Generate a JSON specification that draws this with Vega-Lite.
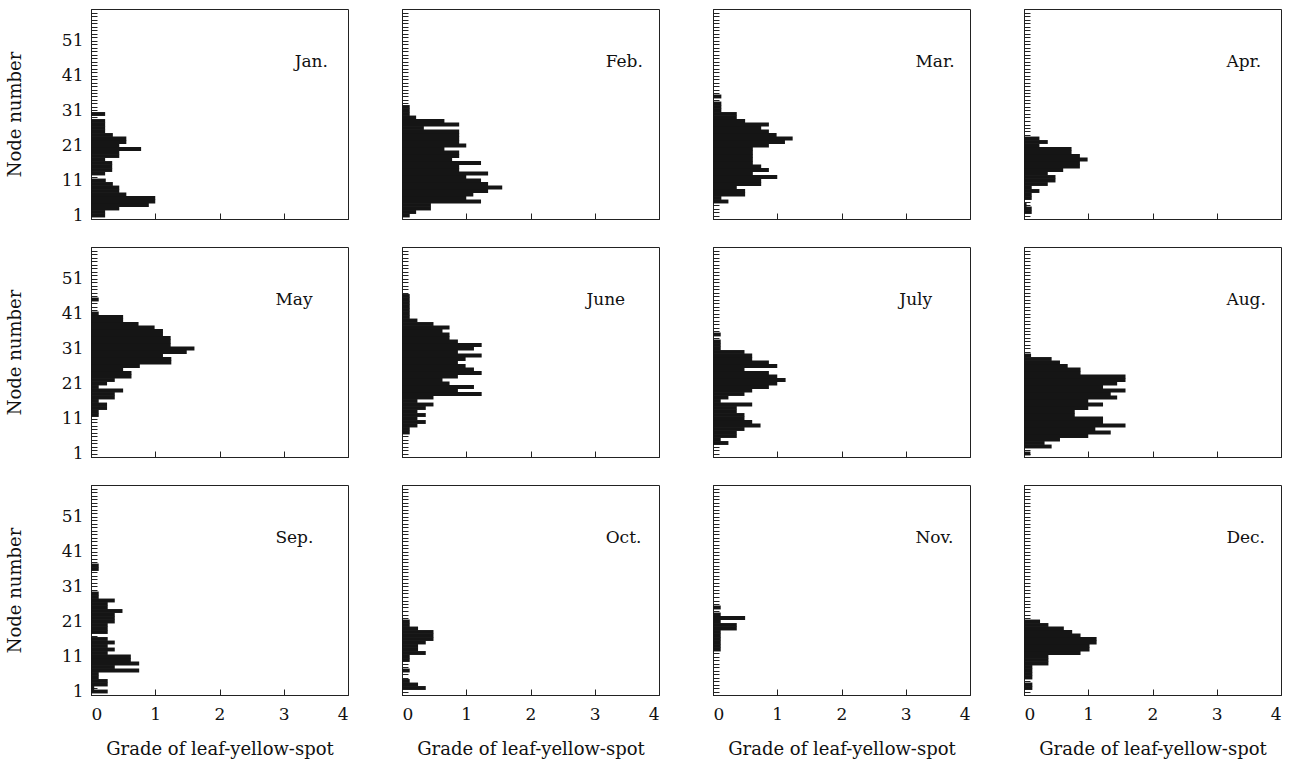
{
"$schema":"https://vega.github.io/schema/vega-lite/v6.json",
"padding":{"left":5,"top":8,"right":0,"bottom":0},
"background":"white",
"datasets":{
"labels":[{"month":"Jan."},{"month":"Feb."},{"month":"Mar."},{"month":"Apr."},{"month":"May"},{"month":"June"},{"month":"July"},{"month":"Aug."},{"month":"Sep."},{"month":"Oct."},{"month":"Nov."},{"month":"Dec."}],
"bars":[
{"month":"Jan.","node":1,"grade":0.22},{"month":"Jan.","node":2,"grade":0.22},{"month":"Jan.","node":3,"grade":0.44},{"month":"Jan.","node":4,"grade":0.9},{"month":"Jan.","node":5,"grade":1.0},{"month":"Jan.","node":6,"grade":1.0},{"month":"Jan.","node":7,"grade":0.55},{"month":"Jan.","node":8,"grade":0.44},{"month":"Jan.","node":9,"grade":0.44},{"month":"Jan.","node":10,"grade":0.34},{"month":"Jan.","node":11,"grade":0.23},{"month":"Jan.","node":13,"grade":0.22},{"month":"Jan.","node":14,"grade":0.33},{"month":"Jan.","node":15,"grade":0.33},{"month":"Jan.","node":16,"grade":0.33},{"month":"Jan.","node":17,"grade":0.22},{"month":"Jan.","node":18,"grade":0.44},{"month":"Jan.","node":19,"grade":0.44},{"month":"Jan.","node":20,"grade":0.78},{"month":"Jan.","node":21,"grade":0.44},{"month":"Jan.","node":22,"grade":0.55},{"month":"Jan.","node":23,"grade":0.55},{"month":"Jan.","node":24,"grade":0.34},{"month":"Jan.","node":25,"grade":0.22},{"month":"Jan.","node":26,"grade":0.22},{"month":"Jan.","node":27,"grade":0.22},{"month":"Jan.","node":28,"grade":0.22},{"month":"Jan.","node":30,"grade":0.22},
{"month":"Feb.","node":1,"grade":0.12},{"month":"Feb.","node":2,"grade":0.22},{"month":"Feb.","node":3,"grade":0.45},{"month":"Feb.","node":4,"grade":0.45},{"month":"Feb.","node":5,"grade":1.23},{"month":"Feb.","node":6,"grade":1.0},{"month":"Feb.","node":7,"grade":1.11},{"month":"Feb.","node":8,"grade":1.34},{"month":"Feb.","node":9,"grade":1.56},{"month":"Feb.","node":10,"grade":1.34},{"month":"Feb.","node":11,"grade":1.23},{"month":"Feb.","node":12,"grade":1.0},{"month":"Feb.","node":13,"grade":1.34},{"month":"Feb.","node":14,"grade":0.89},{"month":"Feb.","node":15,"grade":0.89},{"month":"Feb.","node":16,"grade":1.23},{"month":"Feb.","node":17,"grade":0.78},{"month":"Feb.","node":18,"grade":0.89},{"month":"Feb.","node":19,"grade":0.89},{"month":"Feb.","node":20,"grade":0.66},{"month":"Feb.","node":21,"grade":1.0},{"month":"Feb.","node":22,"grade":0.89},{"month":"Feb.","node":23,"grade":0.89},{"month":"Feb.","node":24,"grade":0.89},{"month":"Feb.","node":25,"grade":0.89},{"month":"Feb.","node":26,"grade":0.34},{"month":"Feb.","node":27,"grade":0.89},{"month":"Feb.","node":28,"grade":0.66},{"month":"Feb.","node":29,"grade":0.22},{"month":"Feb.","node":30,"grade":0.12},{"month":"Feb.","node":31,"grade":0.12},{"month":"Feb.","node":32,"grade":0.12},
{"month":"Mar.","node":5,"grade":0.24},{"month":"Mar.","node":6,"grade":0.13},{"month":"Mar.","node":7,"grade":0.5},{"month":"Mar.","node":8,"grade":0.5},{"month":"Mar.","node":9,"grade":0.37},{"month":"Mar.","node":10,"grade":0.75},{"month":"Mar.","node":11,"grade":0.75},{"month":"Mar.","node":12,"grade":1.0},{"month":"Mar.","node":13,"grade":0.62},{"month":"Mar.","node":14,"grade":0.87},{"month":"Mar.","node":15,"grade":0.75},{"month":"Mar.","node":16,"grade":0.62},{"month":"Mar.","node":17,"grade":0.62},{"month":"Mar.","node":18,"grade":0.62},{"month":"Mar.","node":19,"grade":0.62},{"month":"Mar.","node":20,"grade":0.62},{"month":"Mar.","node":21,"grade":0.87},{"month":"Mar.","node":22,"grade":1.12},{"month":"Mar.","node":23,"grade":1.24},{"month":"Mar.","node":24,"grade":0.99},{"month":"Mar.","node":25,"grade":0.87},{"month":"Mar.","node":26,"grade":0.75},{"month":"Mar.","node":27,"grade":0.87},{"month":"Mar.","node":28,"grade":0.5},{"month":"Mar.","node":29,"grade":0.37},{"month":"Mar.","node":30,"grade":0.37},{"month":"Mar.","node":31,"grade":0.13},{"month":"Mar.","node":32,"grade":0.13},{"month":"Mar.","node":33,"grade":0.13},{"month":"Mar.","node":35,"grade":0.13},
{"month":"Apr.","node":2,"grade":0.12},{"month":"Apr.","node":3,"grade":0.12},{"month":"Apr.","node":4,"grade":0.04},{"month":"Apr.","node":6,"grade":0.12},{"month":"Apr.","node":7,"grade":0.12},{"month":"Apr.","node":8,"grade":0.24},{"month":"Apr.","node":9,"grade":0.12},{"month":"Apr.","node":10,"grade":0.37},{"month":"Apr.","node":11,"grade":0.49},{"month":"Apr.","node":12,"grade":0.49},{"month":"Apr.","node":13,"grade":0.37},{"month":"Apr.","node":14,"grade":0.61},{"month":"Apr.","node":15,"grade":0.87},{"month":"Apr.","node":16,"grade":0.87},{"month":"Apr.","node":17,"grade":0.99},{"month":"Apr.","node":18,"grade":0.87},{"month":"Apr.","node":19,"grade":0.74},{"month":"Apr.","node":20,"grade":0.74},{"month":"Apr.","node":21,"grade":0.24},{"month":"Apr.","node":22,"grade":0.37},{"month":"Apr.","node":23,"grade":0.24},
{"month":"May","node":12,"grade":0.12},{"month":"May","node":13,"grade":0.12},{"month":"May","node":14,"grade":0.25},{"month":"May","node":15,"grade":0.25},{"month":"May","node":16,"grade":0.12},{"month":"May","node":17,"grade":0.37},{"month":"May","node":18,"grade":0.37},{"month":"May","node":19,"grade":0.5},{"month":"May","node":20,"grade":0.12},{"month":"May","node":21,"grade":0.25},{"month":"May","node":22,"grade":0.37},{"month":"May","node":23,"grade":0.63},{"month":"May","node":24,"grade":0.63},{"month":"May","node":25,"grade":0.5},{"month":"May","node":26,"grade":0.76},{"month":"May","node":27,"grade":1.25},{"month":"May","node":28,"grade":1.25},{"month":"May","node":29,"grade":1.12},{"month":"May","node":30,"grade":1.49},{"month":"May","node":31,"grade":1.61},{"month":"May","node":32,"grade":1.24},{"month":"May","node":33,"grade":1.24},{"month":"May","node":34,"grade":1.24},{"month":"May","node":35,"grade":1.12},{"month":"May","node":36,"grade":1.12},{"month":"May","node":37,"grade":0.99},{"month":"May","node":38,"grade":0.74},{"month":"May","node":39,"grade":0.5},{"month":"May","node":40,"grade":0.5},{"month":"May","node":41,"grade":0.12},{"month":"May","node":45,"grade":0.12},
{"month":"June","node":7,"grade":0.12},{"month":"June","node":8,"grade":0.12},{"month":"June","node":9,"grade":0.24},{"month":"June","node":10,"grade":0.37},{"month":"June","node":11,"grade":0.24},{"month":"June","node":12,"grade":0.37},{"month":"June","node":13,"grade":0.24},{"month":"June","node":14,"grade":0.37},{"month":"June","node":15,"grade":0.49},{"month":"June","node":16,"grade":0.24},{"month":"June","node":17,"grade":0.49},{"month":"June","node":18,"grade":1.24},{"month":"June","node":19,"grade":0.87},{"month":"June","node":20,"grade":1.12},{"month":"June","node":21,"grade":0.74},{"month":"June","node":22,"grade":0.63},{"month":"June","node":23,"grade":0.87},{"month":"June","node":24,"grade":1.24},{"month":"June","node":25,"grade":1.12},{"month":"June","node":26,"grade":0.99},{"month":"June","node":27,"grade":0.87},{"month":"June","node":28,"grade":0.99},{"month":"June","node":29,"grade":1.24},{"month":"June","node":30,"grade":0.87},{"month":"June","node":31,"grade":1.12},{"month":"June","node":32,"grade":1.24},{"month":"June","node":33,"grade":0.87},{"month":"June","node":34,"grade":0.74},{"month":"June","node":35,"grade":0.74},{"month":"June","node":36,"grade":0.63},{"month":"June","node":37,"grade":0.74},{"month":"June","node":38,"grade":0.49},{"month":"June","node":39,"grade":0.24},{"month":"June","node":40,"grade":0.12},{"month":"June","node":41,"grade":0.12},{"month":"June","node":42,"grade":0.12},{"month":"June","node":43,"grade":0.12},{"month":"June","node":44,"grade":0.12},{"month":"June","node":45,"grade":0.12},{"month":"June","node":46,"grade":0.12},
{"month":"July","node":4,"grade":0.24},{"month":"July","node":5,"grade":0.12},{"month":"July","node":6,"grade":0.37},{"month":"July","node":7,"grade":0.37},{"month":"July","node":8,"grade":0.49},{"month":"July","node":9,"grade":0.74},{"month":"July","node":10,"grade":0.61},{"month":"July","node":11,"grade":0.49},{"month":"July","node":12,"grade":0.49},{"month":"July","node":13,"grade":0.37},{"month":"July","node":14,"grade":0.37},{"month":"July","node":15,"grade":0.61},{"month":"July","node":16,"grade":0.12},{"month":"July","node":17,"grade":0.24},{"month":"July","node":18,"grade":0.49},{"month":"July","node":19,"grade":0.61},{"month":"July","node":20,"grade":0.87},{"month":"July","node":21,"grade":1.0},{"month":"July","node":22,"grade":1.13},{"month":"July","node":23,"grade":1.0},{"month":"July","node":24,"grade":0.87},{"month":"July","node":25,"grade":0.49},{"month":"July","node":26,"grade":1.0},{"month":"July","node":27,"grade":0.87},{"month":"July","node":28,"grade":0.61},{"month":"July","node":29,"grade":0.61},{"month":"July","node":30,"grade":0.49},{"month":"July","node":31,"grade":0.12},{"month":"July","node":32,"grade":0.12},{"month":"July","node":33,"grade":0.12},{"month":"July","node":35,"grade":0.12},
{"month":"Aug.","node":1,"grade":0.1},{"month":"Aug.","node":3,"grade":0.43},{"month":"Aug.","node":4,"grade":0.32},{"month":"Aug.","node":5,"grade":0.56},{"month":"Aug.","node":6,"grade":1.0},{"month":"Aug.","node":7,"grade":1.35},{"month":"Aug.","node":8,"grade":1.11},{"month":"Aug.","node":9,"grade":1.58},{"month":"Aug.","node":10,"grade":1.23},{"month":"Aug.","node":11,"grade":1.23},{"month":"Aug.","node":12,"grade":0.79},{"month":"Aug.","node":13,"grade":0.79},{"month":"Aug.","node":14,"grade":1.0},{"month":"Aug.","node":15,"grade":1.23},{"month":"Aug.","node":16,"grade":1.0},{"month":"Aug.","node":17,"grade":1.45},{"month":"Aug.","node":18,"grade":1.35},{"month":"Aug.","node":19,"grade":1.58},{"month":"Aug.","node":20,"grade":1.23},{"month":"Aug.","node":21,"grade":1.45},{"month":"Aug.","node":22,"grade":1.58},{"month":"Aug.","node":23,"grade":1.58},{"month":"Aug.","node":24,"grade":0.88},{"month":"Aug.","node":25,"grade":0.88},{"month":"Aug.","node":26,"grade":0.68},{"month":"Aug.","node":27,"grade":0.56},{"month":"Aug.","node":28,"grade":0.43},{"month":"Aug.","node":29,"grade":0.11},
{"month":"Sep.","node":1,"grade":0.26},{"month":"Sep.","node":2,"grade":0.05},{"month":"Sep.","node":3,"grade":0.26},{"month":"Sep.","node":4,"grade":0.26},{"month":"Sep.","node":5,"grade":0.12},{"month":"Sep.","node":6,"grade":0.12},{"month":"Sep.","node":7,"grade":0.75},{"month":"Sep.","node":8,"grade":0.37},{"month":"Sep.","node":9,"grade":0.75},{"month":"Sep.","node":10,"grade":0.62},{"month":"Sep.","node":11,"grade":0.62},{"month":"Sep.","node":12,"grade":0.26},{"month":"Sep.","node":13,"grade":0.37},{"month":"Sep.","node":14,"grade":0.26},{"month":"Sep.","node":15,"grade":0.37},{"month":"Sep.","node":16,"grade":0.26},{"month":"Sep.","node":18,"grade":0.26},{"month":"Sep.","node":19,"grade":0.26},{"month":"Sep.","node":20,"grade":0.26},{"month":"Sep.","node":21,"grade":0.37},{"month":"Sep.","node":22,"grade":0.37},{"month":"Sep.","node":23,"grade":0.37},{"month":"Sep.","node":24,"grade":0.49},{"month":"Sep.","node":25,"grade":0.26},{"month":"Sep.","node":26,"grade":0.26},{"month":"Sep.","node":27,"grade":0.37},{"month":"Sep.","node":28,"grade":0.12},{"month":"Sep.","node":29,"grade":0.12},{"month":"Sep.","node":36,"grade":0.12},{"month":"Sep.","node":37,"grade":0.12},
{"month":"Oct.","node":2,"grade":0.37},{"month":"Oct.","node":3,"grade":0.25},{"month":"Oct.","node":4,"grade":0.12},{"month":"Oct.","node":7,"grade":0.12},{"month":"Oct.","node":10,"grade":0.12},{"month":"Oct.","node":11,"grade":0.12},{"month":"Oct.","node":12,"grade":0.37},{"month":"Oct.","node":13,"grade":0.25},{"month":"Oct.","node":14,"grade":0.25},{"month":"Oct.","node":15,"grade":0.37},{"month":"Oct.","node":16,"grade":0.49},{"month":"Oct.","node":17,"grade":0.49},{"month":"Oct.","node":18,"grade":0.49},{"month":"Oct.","node":19,"grade":0.25},{"month":"Oct.","node":20,"grade":0.12},{"month":"Oct.","node":21,"grade":0.12},
{"month":"Nov.","node":13,"grade":0.12},{"month":"Nov.","node":14,"grade":0.12},{"month":"Nov.","node":15,"grade":0.12},{"month":"Nov.","node":16,"grade":0.12},{"month":"Nov.","node":17,"grade":0.12},{"month":"Nov.","node":18,"grade":0.12},{"month":"Nov.","node":19,"grade":0.37},{"month":"Nov.","node":20,"grade":0.37},{"month":"Nov.","node":21,"grade":0.12},{"month":"Nov.","node":22,"grade":0.5},{"month":"Nov.","node":23,"grade":0.12},{"month":"Nov.","node":25,"grade":0.12},
{"month":"Dec.","node":2,"grade":0.13},{"month":"Dec.","node":3,"grade":0.13},{"month":"Dec.","node":5,"grade":0.13},{"month":"Dec.","node":6,"grade":0.13},{"month":"Dec.","node":7,"grade":0.13},{"month":"Dec.","node":8,"grade":0.13},{"month":"Dec.","node":9,"grade":0.38},{"month":"Dec.","node":10,"grade":0.38},{"month":"Dec.","node":11,"grade":0.38},{"month":"Dec.","node":12,"grade":0.88},{"month":"Dec.","node":13,"grade":1.02},{"month":"Dec.","node":14,"grade":1.02},{"month":"Dec.","node":15,"grade":1.13},{"month":"Dec.","node":16,"grade":1.13},{"month":"Dec.","node":17,"grade":0.88},{"month":"Dec.","node":18,"grade":0.75},{"month":"Dec.","node":19,"grade":0.62},{"month":"Dec.","node":20,"grade":0.38},{"month":"Dec.","node":21,"grade":0.25}
]},
"spacing":22,
"vconcat":[
{"spacing":52,"hconcat":[
{"width":257,"height":210,"resolve":{"axis":{"x":"independent","y":"independent"}},"layer":[
{"data":{"name":"bars"},"transform":[{"filter":"datum.month==='Jan.'"}],"mark":{"type":"bar","orient":"horizontal","height":3.9,"color":"#151515"},"encoding":{"x":{"field":"grade","type":"quantitative","stack":null,"scale":{"domain":[0,4],"padding":0},"axis":{"values":[0,1,2,3,4],"labels":false,"title":null}},"y":{"field":"node","type":"quantitative","scale":{"domain":[0.5,55.5],"padding":0},"axis":{"tickCount":55,"labelExpr":"(datum.value-1)%10===0 ? datum.label : ''","labelFontSize":{"condition":{"test":"(datum.value-1)%10!==0","value":0},"value":17},"labelOverlap":false,"labelFlush":false,"title":"Node number","labelPadding":14,"titlePadding":37}}}},
{"data":{"name":"labels"},"transform":[{"filter":"datum.month==='Jan.'"}],"mark":{"type":"text","align":"left","baseline":"middle","font":"DejaVu Serif","fontSize":17,"color":"#111"},"encoding":{"text":{"field":"month"},"x":{"datum":3.17,"type":"quantitative","axis":null},"y":{"datum":45,"type":"quantitative","axis":null}}}
]},
{"width":257,"height":210,"resolve":{"axis":{"x":"independent","y":"independent"}},"layer":[
{"data":{"name":"bars"},"transform":[{"filter":"datum.month==='Feb.'"}],"mark":{"type":"bar","orient":"horizontal","height":3.9,"color":"#151515"},"encoding":{"x":{"field":"grade","type":"quantitative","stack":null,"scale":{"domain":[0,4],"padding":0},"axis":{"values":[0,1,2,3,4],"labels":false,"title":null}},"y":{"field":"node","type":"quantitative","scale":{"domain":[0.5,55.5],"padding":0},"axis":{"tickCount":55,"labels":false,"title":null}}}},
{"data":{"name":"labels"},"transform":[{"filter":"datum.month==='Feb.'"}],"mark":{"type":"text","align":"left","baseline":"middle","font":"DejaVu Serif","fontSize":17,"color":"#111"},"encoding":{"text":{"field":"month"},"x":{"datum":3.17,"type":"quantitative","axis":null},"y":{"datum":45,"type":"quantitative","axis":null}}}
]},
{"width":257,"height":210,"resolve":{"axis":{"x":"independent","y":"independent"}},"layer":[
{"data":{"name":"bars"},"transform":[{"filter":"datum.month==='Mar.'"}],"mark":{"type":"bar","orient":"horizontal","height":3.9,"color":"#151515"},"encoding":{"x":{"field":"grade","type":"quantitative","stack":null,"scale":{"domain":[0,4],"padding":0},"axis":{"values":[0,1,2,3,4],"labels":false,"title":null}},"y":{"field":"node","type":"quantitative","scale":{"domain":[0.5,55.5],"padding":0},"axis":{"tickCount":55,"labels":false,"title":null}}}},
{"data":{"name":"labels"},"transform":[{"filter":"datum.month==='Mar.'"}],"mark":{"type":"text","align":"left","baseline":"middle","font":"DejaVu Serif","fontSize":17,"color":"#111"},"encoding":{"text":{"field":"month"},"x":{"datum":3.15,"type":"quantitative","axis":null},"y":{"datum":45,"type":"quantitative","axis":null}}}
]},
{"width":257,"height":210,"resolve":{"axis":{"x":"independent","y":"independent"}},"layer":[
{"data":{"name":"bars"},"transform":[{"filter":"datum.month==='Apr.'"}],"mark":{"type":"bar","orient":"horizontal","height":3.9,"color":"#151515"},"encoding":{"x":{"field":"grade","type":"quantitative","stack":null,"scale":{"domain":[0,4],"padding":0},"axis":{"values":[0,1,2,3,4],"labels":false,"title":null}},"y":{"field":"node","type":"quantitative","scale":{"domain":[0.5,55.5],"padding":0},"axis":{"tickCount":55,"labels":false,"title":null}}}},
{"data":{"name":"labels"},"transform":[{"filter":"datum.month==='Apr.'"}],"mark":{"type":"text","align":"left","baseline":"middle","font":"DejaVu Serif","fontSize":17,"color":"#111"},"encoding":{"text":{"field":"month"},"x":{"datum":3.15,"type":"quantitative","axis":null},"y":{"datum":45,"type":"quantitative","axis":null}}}
]}
]},
{"spacing":52,"hconcat":[
{"width":257,"height":210,"resolve":{"axis":{"x":"independent","y":"independent"}},"layer":[
{"data":{"name":"bars"},"transform":[{"filter":"datum.month==='May'"}],"mark":{"type":"bar","orient":"horizontal","height":3.9,"color":"#151515"},"encoding":{"x":{"field":"grade","type":"quantitative","stack":null,"scale":{"domain":[0,4],"padding":0},"axis":{"values":[0,1,2,3,4],"labels":false,"title":null}},"y":{"field":"node","type":"quantitative","scale":{"domain":[0.5,55.5],"padding":0},"axis":{"tickCount":55,"labelExpr":"(datum.value-1)%10===0 ? datum.label : ''","labelFontSize":{"condition":{"test":"(datum.value-1)%10!==0","value":0},"value":17},"labelOverlap":false,"labelFlush":false,"title":"Node number","labelPadding":14,"titlePadding":37}}}},
{"data":{"name":"labels"},"transform":[{"filter":"datum.month==='May'"}],"mark":{"type":"text","align":"left","baseline":"middle","font":"DejaVu Serif","fontSize":17,"color":"#111"},"encoding":{"text":{"field":"month"},"x":{"datum":2.87,"type":"quantitative","axis":null},"y":{"datum":45,"type":"quantitative","axis":null}}}
]},
{"width":257,"height":210,"resolve":{"axis":{"x":"independent","y":"independent"}},"layer":[
{"data":{"name":"bars"},"transform":[{"filter":"datum.month==='June'"}],"mark":{"type":"bar","orient":"horizontal","height":3.9,"color":"#151515"},"encoding":{"x":{"field":"grade","type":"quantitative","stack":null,"scale":{"domain":[0,4],"padding":0},"axis":{"values":[0,1,2,3,4],"labels":false,"title":null}},"y":{"field":"node","type":"quantitative","scale":{"domain":[0.5,55.5],"padding":0},"axis":{"tickCount":55,"labels":false,"title":null}}}},
{"data":{"name":"labels"},"transform":[{"filter":"datum.month==='June'"}],"mark":{"type":"text","align":"left","baseline":"middle","font":"DejaVu Serif","fontSize":17,"color":"#111"},"encoding":{"text":{"field":"month"},"x":{"datum":2.87,"type":"quantitative","axis":null},"y":{"datum":45,"type":"quantitative","axis":null}}}
]},
{"width":257,"height":210,"resolve":{"axis":{"x":"independent","y":"independent"}},"layer":[
{"data":{"name":"bars"},"transform":[{"filter":"datum.month==='July'"}],"mark":{"type":"bar","orient":"horizontal","height":3.9,"color":"#151515"},"encoding":{"x":{"field":"grade","type":"quantitative","stack":null,"scale":{"domain":[0,4],"padding":0},"axis":{"values":[0,1,2,3,4],"labels":false,"title":null}},"y":{"field":"node","type":"quantitative","scale":{"domain":[0.5,55.5],"padding":0},"axis":{"tickCount":55,"labels":false,"title":null}}}},
{"data":{"name":"labels"},"transform":[{"filter":"datum.month==='July'"}],"mark":{"type":"text","align":"left","baseline":"middle","font":"DejaVu Serif","fontSize":17,"color":"#111"},"encoding":{"text":{"field":"month"},"x":{"datum":2.9,"type":"quantitative","axis":null},"y":{"datum":45,"type":"quantitative","axis":null}}}
]},
{"width":257,"height":210,"resolve":{"axis":{"x":"independent","y":"independent"}},"layer":[
{"data":{"name":"bars"},"transform":[{"filter":"datum.month==='Aug.'"}],"mark":{"type":"bar","orient":"horizontal","height":3.9,"color":"#151515"},"encoding":{"x":{"field":"grade","type":"quantitative","stack":null,"scale":{"domain":[0,4],"padding":0},"axis":{"values":[0,1,2,3,4],"labels":false,"title":null}},"y":{"field":"node","type":"quantitative","scale":{"domain":[0.5,55.5],"padding":0},"axis":{"tickCount":55,"labels":false,"title":null}}}},
{"data":{"name":"labels"},"transform":[{"filter":"datum.month==='Aug.'"}],"mark":{"type":"text","align":"left","baseline":"middle","font":"DejaVu Serif","fontSize":17,"color":"#111"},"encoding":{"text":{"field":"month"},"x":{"datum":3.15,"type":"quantitative","axis":null},"y":{"datum":45,"type":"quantitative","axis":null}}}
]}
]},
{"spacing":52,"hconcat":[
{"width":257,"height":210,"resolve":{"axis":{"x":"independent","y":"independent"}},"layer":[
{"data":{"name":"bars"},"transform":[{"filter":"datum.month==='Sep.'"}],"mark":{"type":"bar","orient":"horizontal","height":3.9,"color":"#151515"},"encoding":{"x":{"field":"grade","type":"quantitative","stack":null,"scale":{"domain":[0,4],"padding":0},"axis":{"values":[0,1,2,3,4],"format":"d","labelFlush":true,"title":"Grade of leaf-yellow-spot","labelPadding":17,"titlePadding":18}},"y":{"field":"node","type":"quantitative","scale":{"domain":[0.5,55.5],"padding":0},"axis":{"tickCount":55,"labelExpr":"(datum.value-1)%10===0 ? datum.label : ''","labelFontSize":{"condition":{"test":"(datum.value-1)%10!==0","value":0},"value":17},"labelOverlap":false,"labelFlush":false,"title":"Node number","labelPadding":14,"titlePadding":37}}}},
{"data":{"name":"labels"},"transform":[{"filter":"datum.month==='Sep.'"}],"mark":{"type":"text","align":"left","baseline":"middle","font":"DejaVu Serif","fontSize":17,"color":"#111"},"encoding":{"text":{"field":"month"},"x":{"datum":2.87,"type":"quantitative","axis":null},"y":{"datum":45,"type":"quantitative","axis":null}}}
]},
{"width":257,"height":210,"resolve":{"axis":{"x":"independent","y":"independent"}},"layer":[
{"data":{"name":"bars"},"transform":[{"filter":"datum.month==='Oct.'"}],"mark":{"type":"bar","orient":"horizontal","height":3.9,"color":"#151515"},"encoding":{"x":{"field":"grade","type":"quantitative","stack":null,"scale":{"domain":[0,4],"padding":0},"axis":{"values":[0,1,2,3,4],"format":"d","labelFlush":true,"title":"Grade of leaf-yellow-spot","labelPadding":17,"titlePadding":18}},"y":{"field":"node","type":"quantitative","scale":{"domain":[0.5,55.5],"padding":0},"axis":{"tickCount":55,"labels":false,"title":null}}}},
{"data":{"name":"labels"},"transform":[{"filter":"datum.month==='Oct.'"}],"mark":{"type":"text","align":"left","baseline":"middle","font":"DejaVu Serif","fontSize":17,"color":"#111"},"encoding":{"text":{"field":"month"},"x":{"datum":3.17,"type":"quantitative","axis":null},"y":{"datum":45,"type":"quantitative","axis":null}}}
]},
{"width":257,"height":210,"resolve":{"axis":{"x":"independent","y":"independent"}},"layer":[
{"data":{"name":"bars"},"transform":[{"filter":"datum.month==='Nov.'"}],"mark":{"type":"bar","orient":"horizontal","height":3.9,"color":"#151515"},"encoding":{"x":{"field":"grade","type":"quantitative","stack":null,"scale":{"domain":[0,4],"padding":0},"axis":{"values":[0,1,2,3,4],"format":"d","labelFlush":true,"title":"Grade of leaf-yellow-spot","labelPadding":17,"titlePadding":18}},"y":{"field":"node","type":"quantitative","scale":{"domain":[0.5,55.5],"padding":0},"axis":{"tickCount":55,"labels":false,"title":null}}}},
{"data":{"name":"labels"},"transform":[{"filter":"datum.month==='Nov.'"}],"mark":{"type":"text","align":"left","baseline":"middle","font":"DejaVu Serif","fontSize":17,"color":"#111"},"encoding":{"text":{"field":"month"},"x":{"datum":3.15,"type":"quantitative","axis":null},"y":{"datum":45,"type":"quantitative","axis":null}}}
]},
{"width":257,"height":210,"resolve":{"axis":{"x":"independent","y":"independent"}},"layer":[
{"data":{"name":"bars"},"transform":[{"filter":"datum.month==='Dec.'"}],"mark":{"type":"bar","orient":"horizontal","height":3.9,"color":"#151515"},"encoding":{"x":{"field":"grade","type":"quantitative","stack":null,"scale":{"domain":[0,4],"padding":0},"axis":{"values":[0,1,2,3,4],"format":"d","labelFlush":true,"title":"Grade of leaf-yellow-spot","labelPadding":17,"titlePadding":18}},"y":{"field":"node","type":"quantitative","scale":{"domain":[0.5,55.5],"padding":0},"axis":{"tickCount":55,"labels":false,"title":null}}}},
{"data":{"name":"labels"},"transform":[{"filter":"datum.month==='Dec.'"}],"mark":{"type":"text","align":"left","baseline":"middle","font":"DejaVu Serif","fontSize":17,"color":"#111"},"encoding":{"text":{"field":"month"},"x":{"datum":3.15,"type":"quantitative","axis":null},"y":{"datum":45,"type":"quantitative","axis":null}}}
]}
]}
],
"config":{
"view":{"stroke":"#222","strokeWidth":1},
"axis":{"grid":false,"domainColor":"#222","tickColor":"#222","labelColor":"#111","titleColor":"#111","labelFont":"DejaVu Serif","titleFont":"DejaVu Serif","labelFontSize":17,"titleFontSize":18,"titleFontWeight":"normal","tickSize":-6}
}
}
